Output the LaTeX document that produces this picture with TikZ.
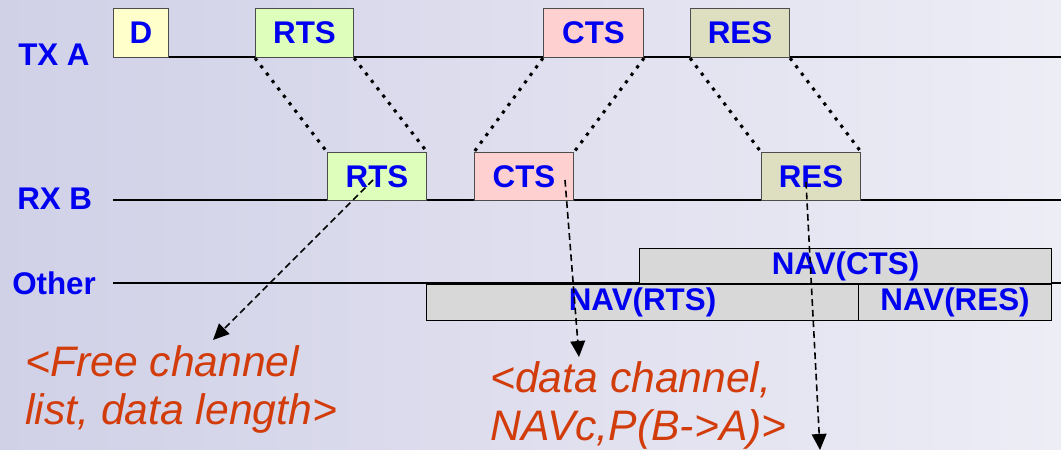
\documentclass[tikz,border=0pt]{standalone}
\usepackage{fontspec}
\setmainfont{Liberation Sans}
\usetikzlibrary{arrows.meta}

\definecolor{bgleft}{HTML}{D0D0E7}
\definecolor{bgright}{HTML}{EDEDF6}
\definecolor{labelblue}{HTML}{0000F0}
\definecolor{notered}{HTML}{D23C0A}
\definecolor{datafill}{HTML}{FFFFCC}
\definecolor{rtsfill}{HTML}{DDFFBB}
\definecolor{ctsfill}{HTML}{FFD0D0}
\definecolor{resfill}{HTML}{DEDEC0}
\definecolor{navfill}{HTML}{D8D8D8}

\tikzset{
  x=0.75pt, y=-0.75pt,
  pkt/.style={draw=black!70, line width=0.8pt, inner sep=0pt, anchor=north west,
    minimum height=36.75pt,
    font=\fontsize{23.5}{23.5}\selectfont\bfseries, text=labelblue},
  rxpkt/.style={pkt, minimum height=36pt},
  navbox/.style={pkt, draw=black, fill=navfill, minimum height=27pt},
  rowlabel/.style={anchor=base west, inner sep=0pt,
    font=\fontsize{23.5}{23.5}\selectfont\bfseries, text=labelblue},
  timeline/.style={line width=2.2pt, black},
  prop/.style={line width=2.3pt, black, dash pattern=on 2.4pt off 4.6pt},
  infoarrow/.style={line width=1.2pt, black, dash pattern=on 5pt off 3pt,
    -{Triangle[length=12pt,width=11pt]}},
  note/.style={anchor=base west, inner sep=0pt, align=left,
    font=\fontsize{32}{36}\selectfont\itshape, text=notered}
}

\begin{document}
\begin{tikzpicture}
% background
\shade[left color=bgleft, right color=bgright] (0,0) rectangle (1061,450);
\useasboundingbox (0,0) rectangle (1061,450);

% row labels
\node[rowlabel] (txlab) at (18,65) {TX A};
\node[rowlabel] (rxlab) at (17,209) {RX B};
\node[rowlabel] (otlab) at (12,294) {Other};

% time lines
\coordinate (txs) at (113,57);  \coordinate (txe) at (1061,57);
\coordinate (rxs) at (113,200); \coordinate (rxe) at (1061,200);
\coordinate (ots) at (113,283); \coordinate (ote) at (1061,283);
\draw[timeline] (txs) -- (txe);
\draw[timeline] (rxs) -- (rxe);
\draw[timeline] (ots) -- (ote);

% frames sent by A
\node[pkt, fill=datafill, minimum width=41.25pt] (dA) at (113,8) {D};
\node[pkt, fill=rtsfill, minimum width=73.5pt] (rtsA) at (255,8) {RTS};
\node[pkt, fill=ctsfill, minimum width=75pt] (ctsA) at (543,8) {CTS};
\node[pkt, fill=resfill, minimum width=74.25pt] (resA) at (690,8) {RES};

% frames seen at B
\node[rxpkt, fill=rtsfill, minimum width=74.25pt] (rtsB) at (327,152) {RTS};
\node[rxpkt, fill=ctsfill, minimum width=74.25pt] (ctsB) at (474,152) {CTS};
\node[rxpkt, fill=resfill, minimum width=74.25pt] (resB) at (761,152) {RES};

% propagation
\draw[prop] (rtsA.south west) -- (rtsB.north west);
\draw[prop] (rtsA.south east) -- (rtsB.north east);
\draw[prop] (ctsA.south west) -- (ctsB.north west);
\draw[prop] (ctsA.south east) -- (ctsB.north east);
\draw[prop] (resA.south west) -- (resB.north west);
\draw[prop] (resA.south east) -- (resB.north east);

% NAV periods of other stations
\node[navbox, minimum height=26.25pt, minimum width=309pt] (navcts) at (639,248) {NAV(CTS)};
\node[navbox, minimum width=324pt] (navrts) at (426,284) {NAV(RTS)};
\node[navbox, minimum width=144.75pt] (navres) at (858,284) {NAV(RES)};

% frame contents
\node[note] (freenote) at (25,424) {<Free channel\\list, data length>};
\node[note] (datanote) at (490,440) {<data channel,\\NAVc,P(B->A)>};

\coordinate (rtsinfo) at (373,180);
\coordinate (rtstip) at (213,340);
\coordinate (ctsinfo) at (565,180);
\coordinate (ctstip) at (579,357);
\coordinate (resinfo) at (806,182);
\coordinate (restip) at (820,450);
\draw[infoarrow] (rtsinfo) -- (rtstip);
\draw[infoarrow] (ctsinfo) -- (ctstip);
\draw[infoarrow] (resinfo) -- (restip);
\end{tikzpicture}
\end{document}
